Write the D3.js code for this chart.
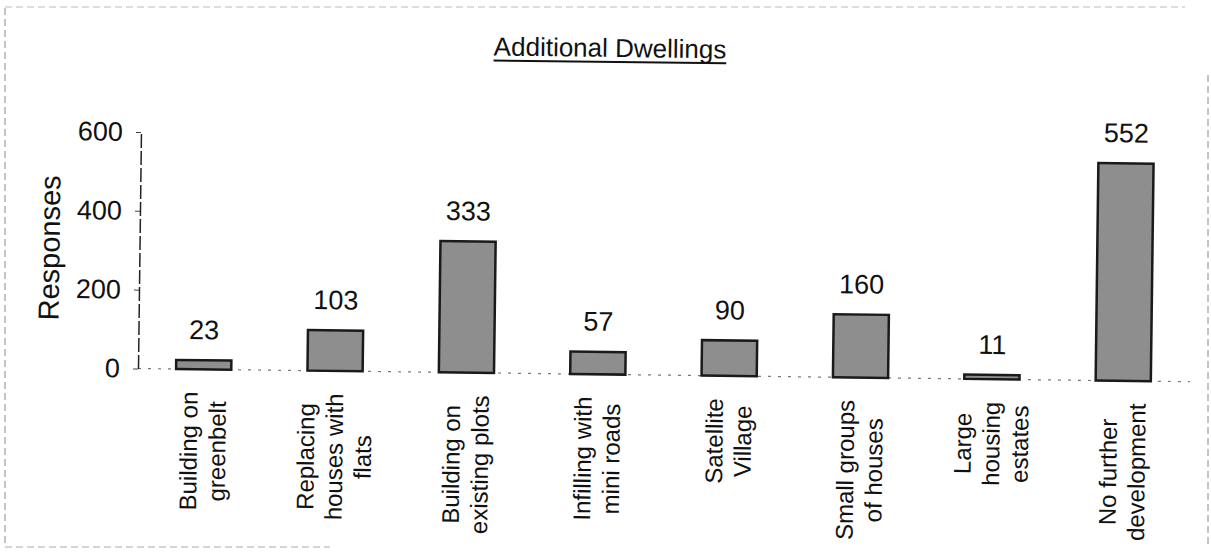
<!DOCTYPE html>
<html>
<head>
<meta charset="utf-8">
<script src="https://cdn.jsdelivr.net/npm/d3@7"></script>
<style>
  html, body { margin: 0; padding: 0; background: #fff; }
  svg { display: block; font-family: "Liberation Sans", Arial, sans-serif; }
</style>
</head>
<body>
<div id="chart"></div>
<script>
// chart data
const categories = [
  'Building on greenbelt',
  'Replacing houses with flats',
  'Building on existing plots',
  'Infilling with mini roads',
  'Satellite Village',
  'Small groups of houses',
  'Large housing estates',
  'No further development'
];
// how each category label wraps
const labelLines = [
  ['Building on', 'greenbelt'],
  ['Replacing', 'houses with', 'flats'],
  ['Building on', 'existing plots'],
  ['Infilling with', 'mini roads'],
  ['Satellite', 'Village'],
  ['Small groups', 'of houses'],
  ['Large', 'housing', 'estates'],
  ['No further', 'development']
];
const responses = [23, 103, 333, 57, 90, 160, 11, 552];
const yTicks = [0, 200, 400, 600];
const title = 'Additional Dwellings';
const yTitle = 'Responses';

const width = 1211, height = 558;

const svg = d3.select('#chart')
  .append('svg')
  .attr('width', width)
  .attr('height', height)
  .attr('viewBox', [0, 0, width, height]);

// faint page frame from the scanned page
const frame = svg.append('g')
  .attr('fill', 'none')
  .attr('stroke', '#888')
  .attr('stroke-width', 1)
  .attr('stroke-dasharray', '7 4');
frame.append('line').attr('x1', 5).attr('y1', 8).attr('x2', 5).attr('y2', 547);
frame.append('line').attr('x1', 5).attr('y1', 7).attr('x2', 1185).attr('y2', 7).attr('stroke', '#bbb');
frame.append('line').attr('x1', 1208).attr('y1', 75).attr('x2', 1208).attr('y2', 547);
frame.append('line').attr('x1', 5).attr('y1', 547).attr('x2', 330).attr('y2', 547).attr('stroke', '#aaa');

// the scan is a little skewed, so tilt the whole chart a touch
const g = svg.append('g')
  .attr('transform', 'rotate(0.72, 138, 368.5)');

const x = d3.scaleBand()
  .domain(categories)
  .range([138, 1189])
  .paddingInner(0.58)
  .paddingOuter(0.29);

const y = d3.scaleLinear()
  .domain([0, 600])
  .range([368.5, 132]);

// title
const titleText = g.append('text')
  .attr('x', 606)
  .attr('y', 51)
  .attr('text-anchor', 'middle')
  .attr('font-size', 26)
  .attr('fill', '#111')
  .text(title);
const tw = titleText.node().getComputedTextLength();
g.append('line')
  .attr('x1', 606 - tw / 2)
  .attr('x2', 606 + tw / 2)
  .attr('y1', 56)
  .attr('y2', 56)
  .attr('stroke', '#111')
  .attr('stroke-width', 2);

// baseline (dotted)
g.append('line')
  .attr('x1', 138)
  .attr('x2', 1190)
  .attr('y1', y(0))
  .attr('y2', y(0))
  .attr('stroke', '#777')
  .attr('stroke-width', 1.2)
  .attr('stroke-dasharray', '3 7');

// y axis
const yAxis = g.append('g')
  .attr('transform', 'translate(138,0)')
  .call(d3.axisLeft(y).tickValues(yTicks).tickSize(5).tickPadding(13).tickSizeOuter(0));
yAxis.select('.domain')
  .attr('stroke', '#222')
  .attr('stroke-width', 1.5)
  .attr('stroke-dasharray', '14 3');
yAxis.selectAll('.tick line').attr('stroke', '#444');
yAxis.selectAll('.tick text')
  .attr('font-size', 27)
  .attr('font-family', '"Liberation Sans", Arial, sans-serif')
  .attr('fill', '#111');

// y axis title
g.append('text')
  .attr('transform', 'translate(58,249) rotate(-90)')
  .attr('text-anchor', 'middle')
  .attr('font-size', 29)
  .attr('fill', '#111')
  .text(yTitle);

// bars
g.append('g')
  .selectAll('rect')
  .data(responses)
  .join('rect')
  .attr('x', (d, i) => x(categories[i]))
  .attr('y', d => y(d))
  .attr('width', x.bandwidth())
  .attr('height', d => y(0) - y(d))
  .attr('fill', '#8e8e8e')
  .attr('stroke', '#1a1a1a')
  .attr('stroke-width', 2.5);

// value labels
g.append('g')
  .selectAll('text')
  .data(responses)
  .join('text')
  .attr('x', (d, i) => x(categories[i]) + x.bandwidth() / 2)
  .attr('y', d => y(d) - 21)
  .attr('text-anchor', 'middle')
  .attr('font-size', 27)
  .attr('fill', '#111')
  .text(d => d);

// rotated category labels, lines centred on each other, block hung from the axis
const labelTop = 391;
const lineGap = 28.5;
const catGroup = g.append('g').attr('font-size', 24).attr('fill', '#111');
categories.forEach((c, i) => {
  const lines = labelLines[i];
  const cx = x(c) + x.bandwidth() / 2;
  const texts = lines.map((ln, j) => catGroup.append('text')
    .attr('text-anchor', 'middle')
    .attr('dy', '0.35em')
    .text(ln));
  const maxLen = d3.max(texts, t => t.node().getComputedTextLength());
  texts.forEach((t, j) => {
    const lx = cx + (j - (lines.length - 1) / 2) * lineGap;
    t.attr('transform', `translate(${lx},${labelTop + maxLen / 2}) rotate(-90)`);
  });
});
</script>
</body>
</html>
